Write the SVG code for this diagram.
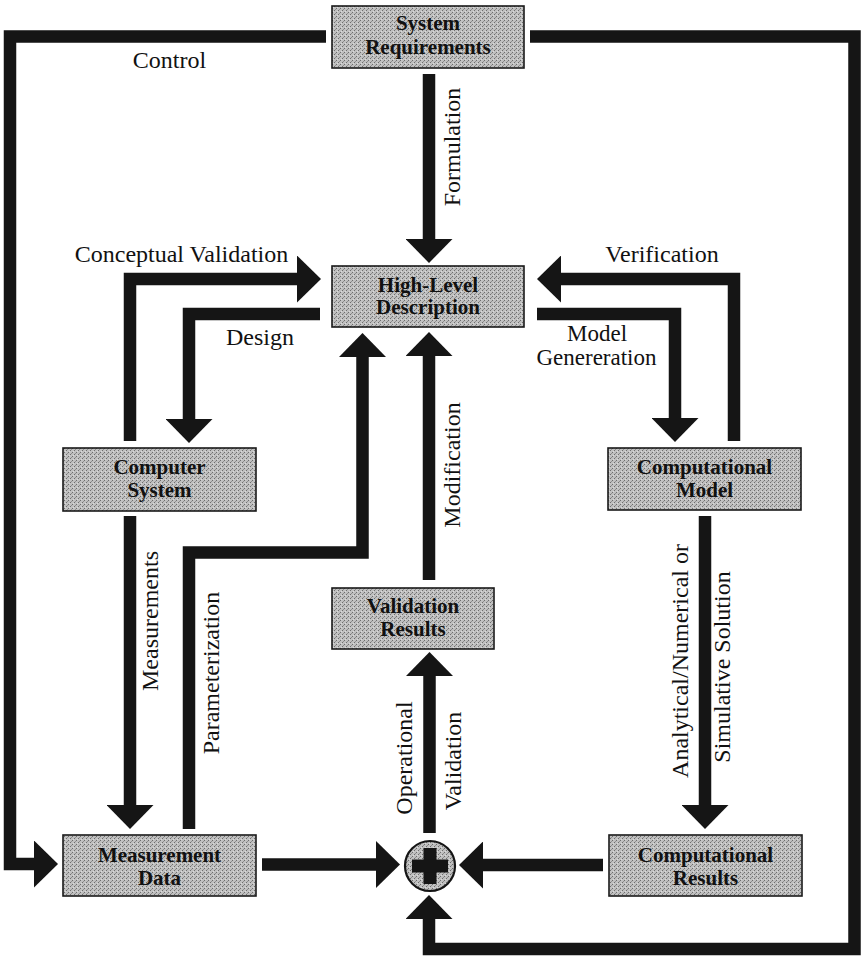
<svg xmlns="http://www.w3.org/2000/svg" width="861" height="957" viewBox="0 0 861 957">
<defs>
<pattern id="ht" width="4" height="4" patternUnits="userSpaceOnUse">
<rect width="4" height="4" fill="#c0c0c0"/>
<rect x="0" y="0" width="1" height="1" fill="#6e6e6e"/>
<rect x="2" y="2" width="1" height="1" fill="#6e6e6e"/>
<rect x="3" y="1" width="1" height="1" fill="#909090"/>
<rect x="1" y="3" width="1" height="1" fill="#dadada"/>
</pattern>
<marker id="ah" viewBox="0 0 24 47" refX="0" refY="23.5" markerWidth="24" markerHeight="47" markerUnits="userSpaceOnUse" orient="auto">
<path d="M0,0 L24,23.5 L0,47 Z" fill="#151515"/>
</marker>
<style>
.box{fill:url(#ht);stroke:#1a1a1a;stroke-width:1.6}
.bt{font-family:"Liberation Serif","Times New Roman",serif;font-weight:bold;font-size:21px;fill:#111;text-anchor:middle}
.lbl{font-family:"Liberation Serif","Times New Roman",serif;font-size:24px;fill:#111;text-anchor:middle}
.sm{font-size:23px}
.ca{fill:none;stroke:#151515;stroke-width:12.5;stroke-linejoin:miter;stroke-linecap:butt;marker-end:url(#ah)}
</style>
</defs>
<rect width="861" height="957" fill="#ffffff"/>
<g id="connectors">
<path class="ca" d="M326,36.5 H10 V864 H34"/>
<path class="ca" d="M530,36.5 H854.5 V949 H429 V919"/>
<path class="ca" d="M429,74 V239"/>
<path class="ca" d="M130,441 V279 H297"/>
<path class="ca" d="M320,314 H189 V419"/>
<path class="ca" d="M537,314 H675 V418"/>
<path class="ca" d="M734,441 V279 H561"/>
<path class="ca" d="M130,516 V805"/>
<path class="ca" d="M189,829 V552.5 H362.5 V357"/>
<path class="ca" d="M429,580 V356"/>
<path class="ca" d="M429.5,833 V676"/>
<path class="ca" d="M705,516 V805"/>
<path class="ca" d="M262,864.5 H376"/>
<path class="ca" d="M603,865 H483"/>
</g>
<g id="labels">
<text class="lbl" x="169.5" y="68">Control</text>
<text class="lbl" x="181.5" y="262">Conceptual Validation</text>
<text class="lbl" x="662" y="262">Verification</text>
<text class="lbl" x="260" y="345">Design</text>
<text class="lbl sm" x="597" y="341">Model</text>
<text class="lbl sm" x="596.5" y="365">Genereration</text>
<text class="lbl" transform="translate(460,147) rotate(-90)">Formulation</text>
<text class="lbl" transform="translate(460,465) rotate(-90)">Modification</text>
<text class="lbl" transform="translate(158,621) rotate(-90)">Measurements</text>
<text class="lbl" transform="translate(219,673) rotate(-90)">Parameterization</text>
<text class="lbl" transform="translate(412,758) rotate(-90)">Operational</text>
<text class="lbl" transform="translate(461,761) rotate(-90)">Validation</text>
<text class="lbl" transform="translate(688,661) rotate(-90)">Analytical/Numerical or</text>
<text class="lbl" transform="translate(730,667) rotate(-90)">Simulative Solution</text>
</g>
<g id="system-requirements">
<rect class="box" x="332" y="6" width="192" height="62"/>
<text class="bt" x="428" y="30">System</text>
<text class="bt" x="428" y="54">Requirements</text>
</g>
<g id="high-level-description">
<rect class="box" x="332" y="266" width="192" height="61"/>
<text class="bt" x="428" y="292">High-Level</text>
<text class="bt" x="428" y="314">Description</text>
</g>
<g id="computer-system">
<rect class="box" x="63" y="448" width="193" height="63"/>
<text class="bt" x="159.5" y="474">Computer</text>
<text class="bt" x="159.5" y="497">System</text>
</g>
<g id="computational-model">
<rect class="box" x="608" y="448" width="193" height="62"/>
<text class="bt" x="704.5" y="474">Computational</text>
<text class="bt" x="704.5" y="497">Model</text>
</g>
<g id="validation-results">
<rect class="box" x="332" y="588" width="162" height="61"/>
<text class="bt" x="413" y="613">Validation</text>
<text class="bt" x="413" y="636">Results</text>
</g>
<g id="measurement-data">
<rect class="box" x="63" y="835" width="193" height="61"/>
<text class="bt" x="159.5" y="862">Measurement</text>
<text class="bt" x="159.5" y="885">Data</text>
</g>
<g id="computational-results">
<rect class="box" x="609" y="835" width="193" height="61"/>
<text class="bt" x="705.5" y="862">Computational</text>
<text class="bt" x="705.5" y="885">Results</text>
</g>
<g id="sum-junction">
<circle cx="430" cy="866" r="25" fill="url(#ht)" stroke="#151515" stroke-width="2.2"/>
<rect x="423.5" y="848" width="13" height="36" fill="#151515"/>
<rect x="412" y="859.5" width="36" height="13" fill="#151515"/>
</g>
</svg>
